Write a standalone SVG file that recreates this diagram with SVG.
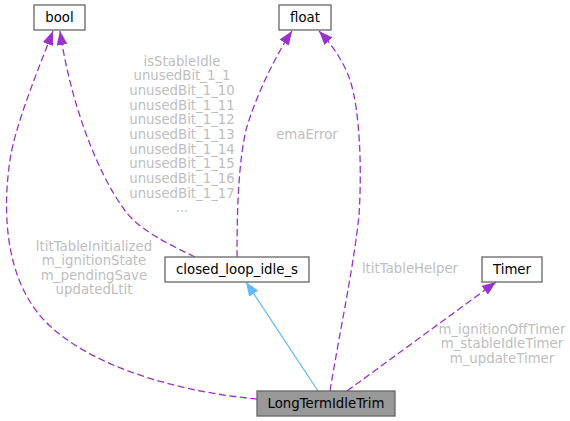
<svg xmlns="http://www.w3.org/2000/svg" width="570" height="421" viewBox="0 0 570 421">
<style>
.node rect{fill:#ffffff;stroke:#666666;stroke-width:1.3}
.node text{font-family:"DejaVu Sans",sans-serif;font-size:13.3px;fill:#000000;text-anchor:middle}
.lbl{font-family:"DejaVu Sans",sans-serif;font-size:13.3px;fill:#bebebe;text-anchor:middle}
.dep{fill:none;stroke:#9a32cd;stroke-width:1.3;stroke-dasharray:7,3.5;marker-end:url(#ap)}
.inh{fill:none;stroke:#63b8ff;stroke-width:1.3;marker-end:url(#ab)}
</style>
<defs>
<marker id="ap" markerUnits="userSpaceOnUse" markerWidth="14" markerHeight="11" refX="14" refY="5.5" orient="auto" viewBox="0 0 14 11">
<path d="M0,0 L14,5.5 L0,11 Z" fill="#9a32cd"/>
</marker>
<marker id="ab" markerUnits="userSpaceOnUse" markerWidth="14" markerHeight="11" refX="14" refY="5.5" orient="auto" viewBox="0 0 14 11">
<path d="M0,0 L14,5.5 L0,11 Z" fill="#63b8ff"/>
</marker>
</defs>
<g id="connectors">
<path class="dep" d="M257,399 C190,393 100,372 50,326 C0,280 4,200 10,160 C15,125 40,65 53,31"/>
<path class="dep" d="M195,257 C168,244 140,230 126,212 C96,172 70,100 60,31"/>
<path class="dep" d="M237,257 C237,215 238,165 246,130 C256,95 276,55 292,31"/>
<path class="dep" d="M330,391 C340,330 354,265 359,215 C362,170 360,110 350,80 C343,60 332,45 319,31"/>
<path class="dep" d="M347,391 L496,282"/>
<path class="inh" d="M318,391 L246,282"/>
</g>
<g id="labels">
<text class="lbl" x="182" y="65.5">isStableIdle</text>
<text class="lbl" x="182" y="80.2">unusedBit_1_1</text>
<text class="lbl" x="182" y="94.8">unusedBit_1_10</text>
<text class="lbl" x="182" y="109.5">unusedBit_1_11</text>
<text class="lbl" x="182" y="124.2">unusedBit_1_12</text>
<text class="lbl" x="182" y="138.8">unusedBit_1_13</text>
<text class="lbl" x="182" y="153.5">unusedBit_1_14</text>
<text class="lbl" x="182" y="168.2">unusedBit_1_15</text>
<text class="lbl" x="182" y="182.8">unusedBit_1_16</text>
<text class="lbl" x="182" y="197.5">unusedBit_1_17</text>
<text class="lbl" x="182" y="211.5">...</text>
<text class="lbl" x="307" y="139">emaError</text>
<text class="lbl" x="94" y="250.5">ltitTableInitialized</text>
<text class="lbl" x="94" y="265">m_ignitionState</text>
<text class="lbl" x="94" y="279.5">m_pendingSave</text>
<text class="lbl" x="94" y="294">updatedLtit</text>
<text class="lbl" x="410" y="273">ltitTableHelper</text>
<text class="lbl" x="502" y="333.5">m_ignitionOffTimer</text>
<text class="lbl" x="502" y="348">m_stableIdleTimer</text>
<text class="lbl" x="502" y="362.5">m_updateTimer</text>
</g>
<g id="bool" class="node"><rect x="34" y="5" width="51" height="25"/><text x="59.5" y="22">bool</text></g>
<g id="float" class="node"><rect x="279" y="5" width="52" height="25"/><text x="305" y="22">float</text></g>
<g id="closed_loop_idle_s" class="node"><rect x="165" y="257" width="144" height="25"/><text x="237" y="274">closed_loop_idle_s</text></g>
<g id="Timer" class="node"><rect x="482" y="257" width="60" height="25"/><text x="512" y="274">Timer</text></g>
<g id="LongTermIdleTrim" class="node"><rect x="257" y="391" width="138" height="25" style="fill:#999999"/><text x="326" y="408">LongTermIdleTrim</text></g>
</svg>
